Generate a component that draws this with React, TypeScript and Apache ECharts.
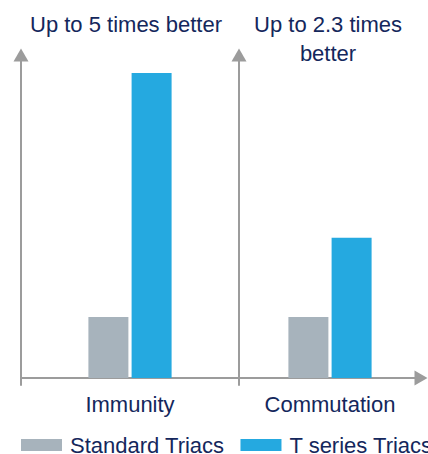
import React, { useEffect, useRef } from "react";
import * as echarts from "echarts";

const categories = ["Immunity", "Commutation"];
const standardTriacs = [1, 1];
const tSeriesTriacs = [5, 2.3];
const seriesNames = ["Standard Triacs", "T series Triacs"];
const panelTitles = ["Up to 5 times better", "Up to 2.3 times\nbetter"];

const FONT = "'Liberation Sans', Arial, sans-serif";
const FS = 22;
const NAVY = "#14275c";
const AXIS = "#9c9c9c";
const GRAY = "#a7b3bc";
const BLUE = "#25a9e0";

export default function App() {
  const ref = useRef<HTMLDivElement>(null);
  useEffect(() => {
    if (!ref.current) return;
    const chart = echarts.init(ref.current, undefined, { renderer: "svg" });
    const grids = [
      { left: 21, width: 218, top: 55, bottom: 69 },
      { left: 239, width: 182, top: 55, bottom: 69 },
    ];
    const xAxes = categories.map((c, i) => ({
      type: "category",
      gridIndex: i,
      data: [c],
      axisLine: {
        show: true,
        lineStyle: { color: AXIS, width: 2 },
        symbol: i === 1 ? ["none", "triangle"] : ["none", "none"],
        symbolSize: [15, 13],
      },
      axisTick: { show: false },
      axisLabel: {
        margin: 8,
        color: NAVY,
        fontFamily: FONT,
        fontSize: FS,
        lineHeight: FS,
      },
    }));
    const yAxes = categories.map((_, i) => ({
      type: "value",
      gridIndex: i,
      min: -0.115,
      max: 5.295,
      axisLine: {
        show: true,
        lineStyle: { color: AXIS, width: 2 },
        symbol: ["none", "triangle"],
        symbolSize: [15, 13],
      },
      axisTick: { show: false },
      axisLabel: { show: false },
      splitLine: { show: false },
    }));
    const series: any[] = [];
    categories.forEach((_, i) => {
      series.push({
        type: "bar",
        name: seriesNames[0],
        xAxisIndex: i,
        yAxisIndex: i,
        data: [standardTriacs[i]],
        barWidth: 40,
        barGap: "8%",
        itemStyle: { color: GRAY },
      });
      series.push({
        type: "bar",
        name: seriesNames[1],
        xAxisIndex: i,
        yAxisIndex: i,
        data: [tSeriesTriacs[i]],
        barWidth: 40,
        barGap: "8%",
        itemStyle: { color: BLUE },
      });
    });
    chart.setOption({
      animation: false,
      grid: grids,
      xAxis: xAxes,
      yAxis: yAxes,
      series,
      legend: {
        data: seriesNames,
        left: 21,
        top: 434,
        width: 1000,
        padding: 0,
        itemWidth: 41,
        itemHeight: 12,
        itemGap: 16,
        icon: "rect",
        textStyle: {
          color: NAVY,
          fontFamily: FONT,
          fontSize: FS,
          lineHeight: FS,
          padding: [0, 0, 0, 3],
        },
      },
      graphic: [
        {
          type: "text",
          x: 126,
          y: 24,
          style: {
            text: panelTitles[0],
            fill: NAVY,
            font: `${FS}px ${FONT}`,
            textAlign: "center",
            textVerticalAlign: "middle",
          },
        },
        {
          type: "text",
          x: 328,
          y: 38.5,
          style: {
            text: panelTitles[1],
            fill: NAVY,
            font: `${FS}px ${FONT}`,
            lineHeight: 29,
            textAlign: "center",
            textVerticalAlign: "middle",
          },
        },
      ],
    });
    return () => chart.dispose();
  }, []);
  return (
    <div
      ref={ref}
      style={{ position: "fixed", left: 0, top: 0, width: 428, height: 454, background: "#fff" }}
    />
  );
}
